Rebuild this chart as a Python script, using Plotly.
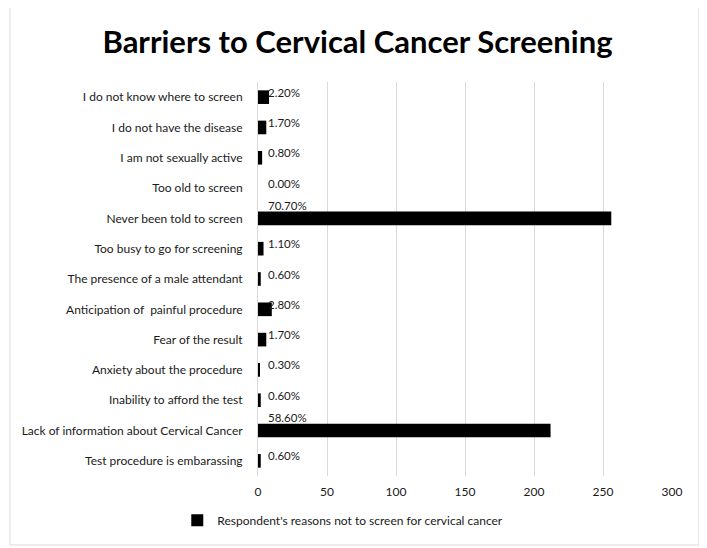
import plotly.graph_objects as go

# categories listed top to bottom as in the chart
reasons = [
    "I do not know where to screen",
    "I do not have the disease",
    "I am not sexually active",
    "Too old to screen",
    "Never been told to screen",
    "Too busy to go for screening",
    "The presence of a male attendant",
    "Anticipation of  painful procedure",
    "Fear of the result",
    "Anxiety about the procedure",
    "Inability to afford the test",
    "Lack of information about Cervical Cancer",
    "Test procedure is embarassing",
]
counts = [8, 6, 3, 0, 256, 4, 2, 10, 6, 1, 2, 212, 2]
pct_labels = ["2.20%", "1.70%", "0.80%", "0.00%", "70.70%", "1.10%", "0.60%",
              "2.80%", "1.70%", "0.30%", "0.60%", "58.60%", "0.60%"]
x_ticks = [0, 50, 100, 150, 200, 250, 300]

FONT = "Lato"

fig = go.Figure()
fig.add_trace(go.Bar(
    y=reasons,
    x=counts,
    orientation="h",
    marker=dict(color="#000000", line=dict(width=0)),
    name="Respondent's reasons not to screen for cervical cancer",
))

# data labels, Excel-style placed just right of the axis
annotations = []
for r, c, lab in zip(reasons, counts, pct_labels):
    annotations.append(dict(
        x=6, y=r, xref="x", yref="y", text=lab, showarrow=False,
        xanchor="left", yanchor="middle",
        yshift=13 if c > 50 else 5,
        font=dict(family=FONT, size=11.5, color="#1a1a1a"),
    ))
fig.update_layout(annotations=annotations)

# chart border
fig.add_shape(type="rect", xref="paper", yref="paper",
              x0=-0.599, x1=1.065, y0=-0.175, y1=1.19,
              line=dict(color="#d9d9d9", width=1), fillcolor="rgba(0,0,0,0)")

# page body has an 8px margin, so the figure is a bit smaller than the window
fig.update_layout(
    width=699, height=540,
    margin=dict(l=250, r=35, t=74, b=72),
    paper_bgcolor="white", plot_bgcolor="white",
    font=dict(family=FONT, size=12, color="#1a1a1a"),
    title=dict(text="<b>Barriers to Cervical Cancer Screening</b>",
               x=0.5, xref="container", xanchor="center",
               y=0.937, yref="container", yanchor="middle",
               font=dict(family=FONT, size=31, color="#000000")),
    bargap=0.55,
    showlegend=True,
    legend=dict(orientation="h", x=-0.195, xanchor="left", y=-0.112, yanchor="middle",
                font=dict(family=FONT, size=12, color="#1a1a1a")),
)
fig.update_xaxes(range=[0, 300], tickvals=x_ticks, showgrid=True, gridcolor="#d9d9d9",
                 zeroline=False, showline=False, ticks="", ticklabelstandoff=7,
                 tickfont=dict(size=12))
fig.update_yaxes(autorange="reversed", showline=True, linecolor="#d9d9d9",
                 ticks="", ticklabelstandoff=12, showgrid=False, tickfont=dict(size=12))

fig.write_html("out.html")
